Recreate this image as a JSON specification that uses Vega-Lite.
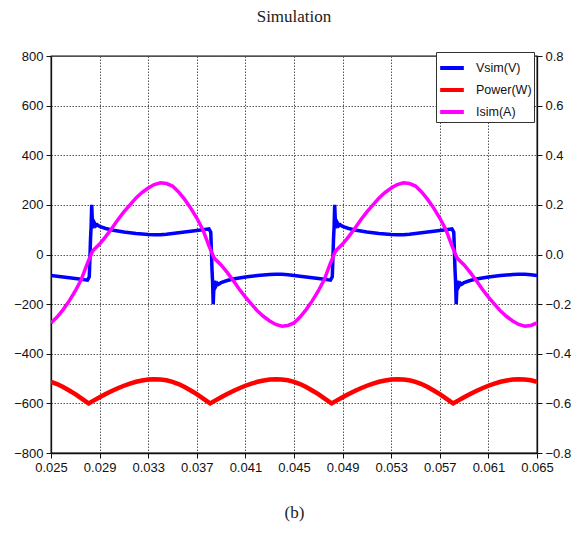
{
"$schema": "https://vega.github.io/schema/vega-lite/v6.json",
"width": 486, "height": 397,
"autosize": "none",
"padding": {"left": 51, "top": 56, "right": 41, "bottom": 98},
"background": "white",
"title": {"text": "Simulation", "font": "Liberation Serif", "fontSize": 17, "fontWeight": "normal", "color": "#222", "anchor": "middle", "offset": 24},
"datasets": {
"vsim": [
{"t":0.025,"v":-85},{"t":0.0255,"v":-88},{"t":0.026,"v":-91},{"t":0.0265,"v":-94},{"t":0.027,"v":-97},{"t":0.0275,"v":-100},{"t":0.0278,"v":-102},{"t":0.028,"v":-103},{"t":0.02815,"v":-90},{"t":0.0282,"v":-20},{"t":0.02825,"v":60},{"t":0.0283,"v":110},{"t":0.02835,"v":200},{"t":0.0284,"v":140},{"t":0.02845,"v":105},{"t":0.0285,"v":135},{"t":0.02855,"v":112},{"t":0.0286,"v":125},{"t":0.0287,"v":116},{"t":0.0288,"v":120},{"t":0.029,"v":113},{"t":0.0295,"v":105},{"t":0.03,"v":99},{"t":0.0305,"v":95},{"t":0.031,"v":91},{"t":0.0315,"v":88},{"t":0.032,"v":85},{"t":0.0325,"v":83},{"t":0.033,"v":81},{"t":0.0335,"v":80},{"t":0.034,"v":80},{"t":0.0345,"v":82},
{"t":0.035,"v":85},{"t":0.0355,"v":88},{"t":0.036,"v":91},{"t":0.0365,"v":94},{"t":0.037,"v":97},{"t":0.0375,"v":100},{"t":0.0378,"v":102},{"t":0.038,"v":103},{"t":0.03815,"v":90},{"t":0.0382,"v":20},{"t":0.03825,"v":-60},{"t":0.0383,"v":-110},{"t":0.03835,"v":-200},{"t":0.0384,"v":-140},{"t":0.03845,"v":-105},{"t":0.0385,"v":-135},{"t":0.03855,"v":-112},{"t":0.0386,"v":-125},{"t":0.0387,"v":-116},{"t":0.0388,"v":-120},{"t":0.039,"v":-113},{"t":0.0395,"v":-105},{"t":0.04,"v":-99},{"t":0.0405,"v":-95},{"t":0.041,"v":-91},{"t":0.0415,"v":-88},{"t":0.042,"v":-85},{"t":0.0425,"v":-83},{"t":0.043,"v":-81},{"t":0.0435,"v":-80},{"t":0.044,"v":-80},{"t":0.0445,"v":-82},
{"t":0.045,"v":-85},{"t":0.0455,"v":-88},{"t":0.046,"v":-91},{"t":0.0465,"v":-94},{"t":0.047,"v":-97},{"t":0.0475,"v":-100},{"t":0.0478,"v":-102},{"t":0.048,"v":-103},{"t":0.04815,"v":-90},{"t":0.0482,"v":-20},{"t":0.04825,"v":60},{"t":0.0483,"v":110},{"t":0.04835,"v":200},{"t":0.0484,"v":140},{"t":0.04845,"v":105},{"t":0.0485,"v":135},{"t":0.04855,"v":112},{"t":0.0486,"v":125},{"t":0.0487,"v":116},{"t":0.0488,"v":120},{"t":0.049,"v":113},{"t":0.0495,"v":105},{"t":0.05,"v":99},{"t":0.0505,"v":95},{"t":0.051,"v":91},{"t":0.0515,"v":88},{"t":0.052,"v":85},{"t":0.0525,"v":83},{"t":0.053,"v":81},{"t":0.0535,"v":80},{"t":0.054,"v":80},{"t":0.0545,"v":82},
{"t":0.055,"v":85},{"t":0.0555,"v":88},{"t":0.056,"v":91},{"t":0.0565,"v":94},{"t":0.057,"v":97},{"t":0.0575,"v":100},{"t":0.0578,"v":102},{"t":0.058,"v":103},{"t":0.05815,"v":90},{"t":0.0582,"v":20},{"t":0.05825,"v":-60},{"t":0.0583,"v":-110},{"t":0.05835,"v":-200},{"t":0.0584,"v":-140},{"t":0.05845,"v":-105},{"t":0.0585,"v":-135},{"t":0.05855,"v":-112},{"t":0.0586,"v":-125},{"t":0.0587,"v":-116},{"t":0.0588,"v":-120},{"t":0.059,"v":-113},{"t":0.0595,"v":-105},{"t":0.06,"v":-99},{"t":0.0605,"v":-95},{"t":0.061,"v":-91},{"t":0.0615,"v":-88},{"t":0.062,"v":-85},{"t":0.0625,"v":-83},{"t":0.063,"v":-81},{"t":0.0635,"v":-80},{"t":0.064,"v":-80},{"t":0.0645,"v":-82},{"t":0.065,"v":-85}
],
"power": [
{"t":0.025,"v":-513},{"t":0.0255,"v":-522},{"t":0.026,"v":-534},{"t":0.0265,"v":-548},{"t":0.027,"v":-563},{"t":0.0275,"v":-580},{"t":0.028,"v":-597},{"t":0.0281,"v":-600},{"t":0.0285,"v":-589},{"t":0.029,"v":-575},{"t":0.0295,"v":-562},{"t":0.03,"v":-550},{"t":0.0305,"v":-539},{"t":0.031,"v":-529},{"t":0.0315,"v":-520},{"t":0.032,"v":-513},{"t":0.0325,"v":-508},{"t":0.033,"v":-504},{"t":0.0335,"v":-503},{"t":0.034,"v":-504},{"t":0.0345,"v":-507},
{"t":0.035,"v":-513},{"t":0.0355,"v":-522},{"t":0.036,"v":-534},{"t":0.0365,"v":-548},{"t":0.037,"v":-563},{"t":0.0375,"v":-580},{"t":0.038,"v":-597},{"t":0.0381,"v":-600},{"t":0.0385,"v":-589},{"t":0.039,"v":-575},{"t":0.0395,"v":-562},{"t":0.04,"v":-550},{"t":0.0405,"v":-539},{"t":0.041,"v":-529},{"t":0.0415,"v":-520},{"t":0.042,"v":-513},{"t":0.0425,"v":-508},{"t":0.043,"v":-504},{"t":0.0435,"v":-503},{"t":0.044,"v":-504},{"t":0.0445,"v":-507},
{"t":0.045,"v":-513},{"t":0.0455,"v":-522},{"t":0.046,"v":-534},{"t":0.0465,"v":-548},{"t":0.047,"v":-563},{"t":0.0475,"v":-580},{"t":0.048,"v":-597},{"t":0.0481,"v":-600},{"t":0.0485,"v":-589},{"t":0.049,"v":-575},{"t":0.0495,"v":-562},{"t":0.05,"v":-550},{"t":0.0505,"v":-539},{"t":0.051,"v":-529},{"t":0.0515,"v":-520},{"t":0.052,"v":-513},{"t":0.0525,"v":-508},{"t":0.053,"v":-504},{"t":0.0535,"v":-503},{"t":0.054,"v":-504},{"t":0.0545,"v":-507},
{"t":0.055,"v":-513},{"t":0.0555,"v":-522},{"t":0.056,"v":-534},{"t":0.0565,"v":-548},{"t":0.057,"v":-563},{"t":0.0575,"v":-580},{"t":0.058,"v":-597},{"t":0.0581,"v":-600},{"t":0.0585,"v":-589},{"t":0.059,"v":-575},{"t":0.0595,"v":-562},{"t":0.06,"v":-550},{"t":0.0605,"v":-539},{"t":0.061,"v":-529},{"t":0.0615,"v":-520},{"t":0.062,"v":-513},{"t":0.0625,"v":-508},{"t":0.063,"v":-504},{"t":0.0635,"v":-503},{"t":0.064,"v":-504},{"t":0.0645,"v":-507},{"t":0.065,"v":-513}
],
"isim": [
{"t":0.025,"v":-0.276},{"t":0.0255,"v":-0.252},{"t":0.026,"v":-0.222},{"t":0.0265,"v":-0.187},{"t":0.027,"v":-0.147},{"t":0.0275,"v":-0.1},{"t":0.028,"v":-0.035},{"t":0.0284,"v":0.012},{"t":0.0285,"v":0.018},{"t":0.029,"v":0.042},{"t":0.0295,"v":0.072},{"t":0.03,"v":0.105},{"t":0.0305,"v":0.14},{"t":0.031,"v":0.172},{"t":0.0315,"v":0.2},{"t":0.032,"v":0.228},{"t":0.0325,"v":0.25},{"t":0.033,"v":0.268},{"t":0.0335,"v":0.282},{"t":0.034,"v":0.289},{"t":0.0345,"v":0.286},
{"t":0.035,"v":0.276},{"t":0.0355,"v":0.252},{"t":0.036,"v":0.222},{"t":0.0365,"v":0.187},{"t":0.037,"v":0.147},{"t":0.0375,"v":0.1},{"t":0.038,"v":0.035},{"t":0.0384,"v":-0.012},{"t":0.0385,"v":-0.018},{"t":0.039,"v":-0.042},{"t":0.0395,"v":-0.072},{"t":0.04,"v":-0.105},{"t":0.0405,"v":-0.14},{"t":0.041,"v":-0.172},{"t":0.0415,"v":-0.2},{"t":0.042,"v":-0.228},{"t":0.0425,"v":-0.25},{"t":0.043,"v":-0.268},{"t":0.0435,"v":-0.282},{"t":0.044,"v":-0.289},{"t":0.0445,"v":-0.286},
{"t":0.045,"v":-0.276},{"t":0.0455,"v":-0.252},{"t":0.046,"v":-0.222},{"t":0.0465,"v":-0.187},{"t":0.047,"v":-0.147},{"t":0.0475,"v":-0.1},{"t":0.048,"v":-0.035},{"t":0.0484,"v":0.012},{"t":0.0485,"v":0.018},{"t":0.049,"v":0.042},{"t":0.0495,"v":0.072},{"t":0.05,"v":0.105},{"t":0.0505,"v":0.14},{"t":0.051,"v":0.172},{"t":0.0515,"v":0.2},{"t":0.052,"v":0.228},{"t":0.0525,"v":0.25},{"t":0.053,"v":0.268},{"t":0.0535,"v":0.282},{"t":0.054,"v":0.289},{"t":0.0545,"v":0.286},
{"t":0.055,"v":0.276},{"t":0.0555,"v":0.252},{"t":0.056,"v":0.222},{"t":0.0565,"v":0.187},{"t":0.057,"v":0.147},{"t":0.0575,"v":0.1},{"t":0.058,"v":0.035},{"t":0.0584,"v":-0.012},{"t":0.0585,"v":-0.018},{"t":0.059,"v":-0.042},{"t":0.0595,"v":-0.072},{"t":0.06,"v":-0.105},{"t":0.0605,"v":-0.14},{"t":0.061,"v":-0.172},{"t":0.0615,"v":-0.2},{"t":0.062,"v":-0.228},{"t":0.0625,"v":-0.25},{"t":0.063,"v":-0.268},{"t":0.0635,"v":-0.282},{"t":0.064,"v":-0.289},{"t":0.0645,"v":-0.286},{"t":0.065,"v":-0.276}
]
},
"encoding": {
"x": {"field": "t", "type": "quantitative", "scale": {"domain": [0.025, 0.065], "nice": false, "zero": false},
 "axis": {"values": [0.025,0.029,0.033,0.037,0.041,0.045,0.049,0.053,0.057,0.061,0.065], "format": ".3f", "labelOverlap": false, "labelFlush": false, "title": "(b)", "titleFont": "Liberation Serif", "titleFontSize": 17, "titleFontWeight": "normal", "titleColor": "#222", "titlePadding": 30, "grid": true}}
},
"layer": [
{"encoding": {"y": {"field": "v", "type": "quantitative", "scale": {"domain": [-800, 800], "nice": false, "zero": false},
  "axis": {"values": [-800,-600,-400,-200,0,200,400,600,800], "title": null, "grid": true}}},
 "layer": [
 {"data": {"name": "vsim"}, "mark": {"type": "line", "strokeWidth": 3.5, "clip": true},
  "encoding": {"color": {"datum": "Vsim(V)", "type": "nominal", "scale": {"domain": ["Vsim(V)","Power(W)","Isim(A)"], "range": ["#0000ff","#ff0000","#ff00ff"]}, "legend": {"title": null, "orient": "none", "legendX": 385, "legendY": -4}}}},
 {"data": {"name": "power"}, "mark": {"type": "line", "strokeWidth": 4.5, "clip": true},
  "encoding": {"color": {"datum": "Power(W)", "type": "nominal", "scale": {"domain": ["Vsim(V)","Power(W)","Isim(A)"], "range": ["#0000ff","#ff0000","#ff00ff"]}, "legend": {"title": null, "orient": "none", "legendX": 385, "legendY": -4}}}}
 ]},
{"data": {"name": "isim"}, "mark": {"type": "line", "strokeWidth": 3.5, "clip": true},
 "encoding": {
  "y": {"field": "v", "type": "quantitative", "scale": {"domain": [-0.8, 0.8], "nice": false, "zero": false},
   "axis": {"orient": "right", "values": [-0.8,-0.6,-0.4,-0.2,0,0.2,0.4,0.6,0.8], "format": ".1f", "title": null, "grid": false}},
  "color": {"datum": "Isim(A)", "type": "nominal", "scale": {"domain": ["Vsim(V)","Power(W)","Isim(A)"], "range": ["#0000ff","#ff0000","#ff00ff"]}, "legend": {"title": null, "orient": "none", "legendX": 385, "legendY": -4}}}}
],
"resolve": {"scale": {"y": "independent"}},
"config": {
 "view": {"stroke": "#111", "strokeWidth": 1.3},
 "axis": {"labelFont": "Liberation Sans", "labelFontSize": 13, "labelColor": "#111", "domainColor": "#111", "domainWidth": 1.3, "tickColor": "#111", "tickSize": 5, "labelPadding": 3, "gridColor": "#555", "gridDash": [1.5, 1.5], "gridWidth": 1},
 "legend": {"labelFont": "Liberation Sans", "labelFontSize": 12.5, "labelColor": "#111", "symbolType": "stroke", "symbolStrokeWidth": 4, "symbolSize": 560, "fillColor": "white", "strokeColor": "#333", "padding": 2, "rowPadding": 0, "labelOffset": 10}
}
}
